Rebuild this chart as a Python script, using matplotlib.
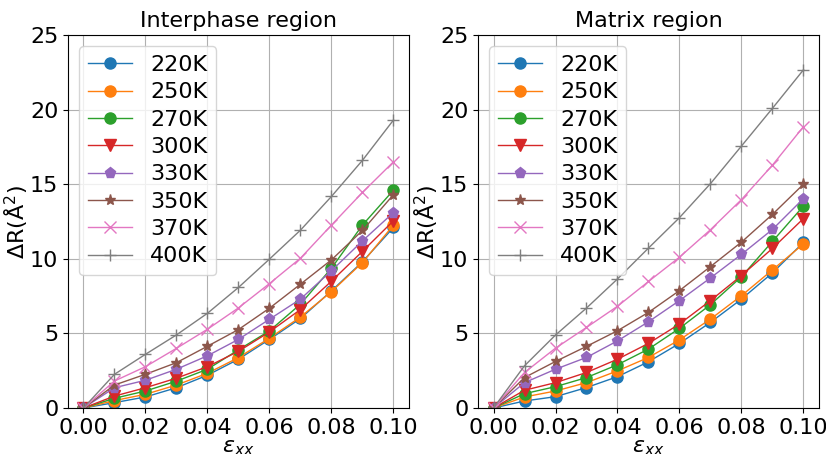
import numpy as np
import matplotlib.pyplot as plt

strain = [0.0, 0.01, 0.02, 0.03, 0.04, 0.05, 0.06, 0.07, 0.08, 0.09, 0.10]
temps = ['220K', '250K', '270K', '300K', '330K', '350K', '370K', '400K']

# interphase region
inter_220 = [0, 0.36, 0.74, 1.36, 2.2, 3.27, 4.6, 6.0, 7.85, 9.8, 12.1]
inter_250 = [0, 0.5, 0.92, 1.54, 2.33, 3.38, 4.68, 6.1, 7.8, 9.75, 12.26]
inter_270 = [0, 0.65, 1.14, 1.8, 2.6, 3.9, 5.17, 6.96, 9.37, 12.26, 14.6]
inter_300 = [0, 0.8, 1.36, 2.0, 2.77, 3.8, 5.1, 6.6, 8.5, 10.5, 12.55]
inter_330 = [0, 1.36, 1.86, 2.6, 3.5, 4.6, 5.95, 7.3, 9.2, 11.2, 13.1]
inter_350 = [0, 1.54, 2.26, 3.04, 4.14, 5.26, 6.69, 8.3, 9.93, 11.9, 14.3]
inter_370 = [0, 1.81, 2.77, 4.0, 5.28, 6.71, 8.34, 10.04, 12.26, 14.45, 16.5]
inter_400 = [0, 2.26, 3.6, 4.9, 6.35, 8.08, 9.98, 11.92, 14.18, 16.6, 19.3]

# matrix region
mat_220 = [0, 0.47, 0.76, 1.37, 2.1, 3.1, 4.33, 5.74, 7.3, 9.06, 11.1]
mat_250 = [0, 0.74, 1.14, 1.7, 2.49, 3.39, 4.57, 5.96, 7.53, 9.26, 11.0]
mat_270 = [0, 0.96, 1.43, 2.04, 2.9, 3.95, 5.34, 6.93, 8.8, 11.17, 13.54]
mat_300 = [0, 1.19, 1.7, 2.38, 3.27, 4.33, 5.63, 7.2, 8.88, 10.7, 12.7]
mat_330 = [0, 1.7, 2.6, 3.39, 4.5, 5.78, 7.2, 8.72, 10.3, 11.97, 14.04]
mat_350 = [0, 2.04, 3.12, 4.13, 5.18, 6.41, 7.87, 9.48, 11.12, 12.98, 15.0]
mat_370 = [0, 2.38, 4.01, 5.4, 6.82, 8.48, 10.11, 11.95, 13.97, 16.28, 18.86]
mat_400 = [0, 2.83, 4.89, 6.7, 8.65, 10.72, 12.76, 15.04, 17.56, 20.09, 22.67]

inter = [inter_220, inter_250, inter_270, inter_300, inter_330, inter_350, inter_370, inter_400]
mat = [mat_220, mat_250, mat_270, mat_300, mat_330, mat_350, mat_370, mat_400]
markers = ['o', 'o', 'o', 'v', 'p', '*', 'x', '+']

plt.rcParams['font.size'] = 16

fig = plt.figure(figsize=(8.26, 4.54), dpi=100)
ax1 = fig.add_axes([0.0823, 0.1013, 0.4128, 0.8216])
ax2 = fig.add_axes([0.5787, 0.1013, 0.4128, 0.8216])

for ax, data, title in [(ax1, inter, 'Interphase region'), (ax2, mat, 'Matrix region')]:
    for i in range(len(temps)):
        ax.plot(strain, data[i], marker=markers[i], markersize=8, linewidth=1, label=temps[i])
    ax.set_title(title, fontsize=16)
    ax.set_xlabel(r'$\varepsilon_{xx}$', fontsize=16, labelpad=0)
    ax.set_ylabel('ΔR(Å$^2$)', fontsize=16, labelpad=0)
    ax.set_ylim(0, 25)
    ax.set_yticks([0, 5, 10, 15, 20, 25])
    ax.set_xticks([0.0, 0.02, 0.04, 0.06, 0.08, 0.10])
    ax.grid(True)
    ax.legend(loc='upper left', labelspacing=0.33)

fig.savefig('out.png', dpi=100)
